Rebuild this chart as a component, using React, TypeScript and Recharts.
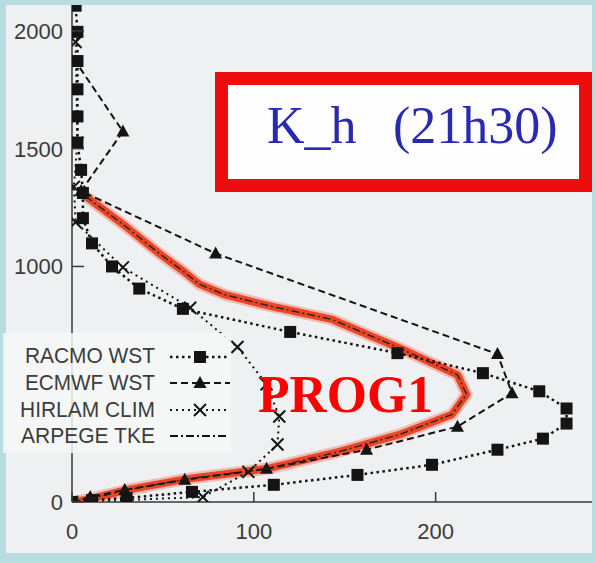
import { Scatter, ScatterChart, XAxis, YAxis } from "recharts";

// profiles: [K_h, height]
const racmo: [number, number][] = [
  [0, 0], [11, 8], [30, 17], [66, 43], [111, 73], [157, 115], [198, 158], [234, 222],
  [259, 269], [272, 333], [272, 397], [257, 470], [226, 547], [179, 632], [120, 722],
  [61, 820], [37, 906], [22, 1000], [11, 1098], [6, 1205], [6, 1312], [5, 1410],
  [3, 1526], [3, 1637], [3, 1752], [3, 1872], [3, 1996], [2, 2107],
];
const ecmwf: [number, number][] = [
  [0, 0], [10, 21], [29, 51], [62, 94], [107, 141], [162, 222], [212, 320], [242, 462],
  [234, 628], [79, 1055], [5, 1320], [28, 1573], [2, 1870],
];
const hirlam: [number, number][] = [
  [0, 0], [72, 21], [97, 128], [113, 244], [114, 363], [107, 500], [91, 658], [65, 825],
  [28, 996], [2, 1188], [1, 1338], [3, 1525], [2, 1953],
];
const arpege: [number, number][] = [
  [0, 0], [10, 13], [30, 51], [63, 98], [107, 141], [147, 214], [180, 286], [209, 372],
  [217, 457], [212, 540], [180, 654], [143, 775], [110, 830], [84, 880], [70, 925],
  [62, 975], [48, 1055], [30, 1167], [8, 1295],
];

const xTicks = [0, 100, 200];
const yTicks = [0, 1000, 1500, 2000];
const legendNames = ["RACMO WST", "ECMWF WST", "HIRLAM CLIM", "ARPEGE TKE"];

const toRows = (pts: [number, number][]) => pts.map(([k, h]) => ({ k, h }));

const INK = "#141414";
const AXIS = "#3a3a3a";
const LABEL = "#3c3c3c";
const SANS = "'Liberation Sans', Arial, sans-serif";
const SERIF = "'Liberation Serif', 'Times New Roman', serif";

const Square = ({ cx, cy }: any) => (
  <rect x={cx - 6} y={cy - 6} width={12} height={12} fill={INK} />
);
const Triangle = ({ cx, cy }: any) => (
  <polygon points={`${cx},${cy - 7} ${cx - 6.5},${cy + 5} ${cx + 6.5},${cy + 5}`} fill={INK} />
);
const Cross = ({ cx, cy }: any) => (
  <path
    d={`M${cx - 6},${cy - 6}L${cx + 6},${cy + 6}M${cx + 6},${cy - 6}L${cx - 6},${cy + 6}`}
    stroke={INK}
    strokeWidth={2}
  />
);
const NoDot = () => <g />;

const YTick = ({ x, y, payload }: any) => (
  <g>
    <line x1={x} x2={x + 12} y1={y} y2={y} stroke={AXIS} strokeWidth={1.5} />
    <text x={x - 9} y={y + 8} textAnchor="end" fontFamily={SANS} fontSize={22} fill={LABEL}>
      {payload.value}
    </text>
  </g>
);

const XTick = ({ x, y, payload }: any) => (
  <g>
    <line x1={x} x2={x} y1={y} y2={y - 10} stroke={AXIS} strokeWidth={1.5} />
    <text x={x} y={y + 37} textAnchor="middle" fontFamily={SANS} fontSize={22} fill={LABEL}>
      {payload.value}
    </text>
  </g>
);

function Overlay() {
  const rowsY = [363, 390, 417, 443];
  const lineY = [357, 383, 410, 436];
  const lens = [130, 130, 135, 134];
  return (
    <svg width={596} height={563} style={{ position: "absolute", left: 0, top: 0, pointerEvents: "none" }}>
      <rect x={3} y={333} width={228} height={120} fill="#f6f7f7" opacity={0.85} />
      {legendNames.map((n, i) => (
        <text
          key={n}
          x={155}
          y={rowsY[i]}
          textAnchor="end"
          fontFamily={SANS}
          fontSize={22}
          fill={LABEL}
          textLength={lens[i]}
          lengthAdjust="spacingAndGlyphs"
        >
          {n}
        </text>
      ))}
      <line x1={170} x2={230} y1={lineY[0]} y2={lineY[0]} stroke={INK} strokeWidth={2.5} strokeDasharray="2.5 3.5" />
      <Square cx={200} cy={lineY[0]} />
      <line x1={170} x2={230} y1={lineY[1]} y2={lineY[1]} stroke={INK} strokeWidth={2} strokeDasharray="7 4" />
      <Triangle cx={200} cy={lineY[1]} />
      <line x1={170} x2={230} y1={lineY[2]} y2={lineY[2]} stroke={INK} strokeWidth={2} strokeDasharray="2 4" />
      <Cross cx={200} cy={lineY[2]} />
      <line x1={170} x2={228} y1={lineY[3]} y2={lineY[3]} stroke={INK} strokeWidth={1.8} strokeDasharray="8 3 2 3" />

      <rect x={221.5} y={78.5} width={364} height={107} fill="#fdfdfd" stroke="#ee0d0d" strokeWidth={13} />
      <text fontFamily={SERIF} fontSize={52} fill="#2a2ab0" y={143}>
        <tspan x={267}>K_h</tspan>
        <tspan x={393}>(21h30)</tspan>
      </text>
      <text
        x={258}
        y={412}
        fontFamily={SERIF}
        fontWeight="bold"
        fontSize={52}
        fill="#ff0000"
        textLength={175}
        lengthAdjust="spacingAndGlyphs"
      >
        PROG1
      </text>
    </svg>
  );
}

export default function App() {
  return (
    <div style={{ position: "absolute", left: 0, top: 0, width: 596, height: 563, background: "#b7dde1" }}>
      <div style={{ position: "absolute", left: 6, top: 5, width: 586, height: 548, background: "#eef0f1" }} />
      <div style={{ position: "absolute", left: 0, top: 0 }}>
        <ScatterChart width={596} height={563} margin={{ top: 5, right: 4, bottom: 0, left: 0 }}>
          <XAxis
            type="number"
            dataKey="k"
            domain={[0, 286]}
            ticks={xTicks}
            height={61}
            tickLine={false}
            tickSize={0}
            tickMargin={0}
            axisLine={{ stroke: AXIS, strokeWidth: 1.5 }}
            tick={<XTick />}
            allowDataOverflow
          />
          <YAxis
            type="number"
            dataKey="h"
            domain={[0, 2110]}
            ticks={yTicks}
            width={72}
            tickLine={false}
            tickSize={0}
            tickMargin={0}
            axisLine={{ stroke: AXIS, strokeWidth: 1.5 }}
            tick={<YTick />}
            allowDataOverflow
          />
          <Scatter
            data={toRows(arpege)}
            fill="#f08a7a"
            line={{ stroke: "#f08a7a", strokeWidth: 12, strokeOpacity: 0.5, strokeLinejoin: "round", strokeLinecap: "round" }}
            lineType="joint"
            shape={<NoDot />}
            isAnimationActive={false}
          />
          <Scatter
            data={toRows(arpege)}
            fill="#ec4526"
            line={{ stroke: "#ec4526", strokeWidth: 7.5, strokeLinejoin: "round", strokeLinecap: "round" }}
            lineType="joint"
            shape={<NoDot />}
            isAnimationActive={false}
          />
          <Scatter
            data={toRows(racmo)}
            fill={INK}
            line={{ stroke: INK, strokeWidth: 2.5, strokeDasharray: "2.5 3.5" }}
            lineType="joint"
            shape={<Square />}
            isAnimationActive={false}
          />
          <Scatter
            data={toRows(ecmwf)}
            fill={INK}
            line={{ stroke: INK, strokeWidth: 2, strokeDasharray: "7 4" }}
            lineType="joint"
            shape={<Triangle />}
            isAnimationActive={false}
          />
          <Scatter
            data={toRows(hirlam)}
            fill={INK}
            line={{ stroke: INK, strokeWidth: 2, strokeDasharray: "2 4" }}
            lineType="joint"
            shape={<Cross />}
            isAnimationActive={false}
          />
          <Scatter
            data={toRows(arpege)}
            fill={INK}
            line={{ stroke: "#222", strokeWidth: 1.4, strokeDasharray: "8 3 2 3" }}
            lineType="joint"
            shape={<NoDot />}
            isAnimationActive={false}
          />
        </ScatterChart>
      </div>
      <Overlay />
    </div>
  );
}
